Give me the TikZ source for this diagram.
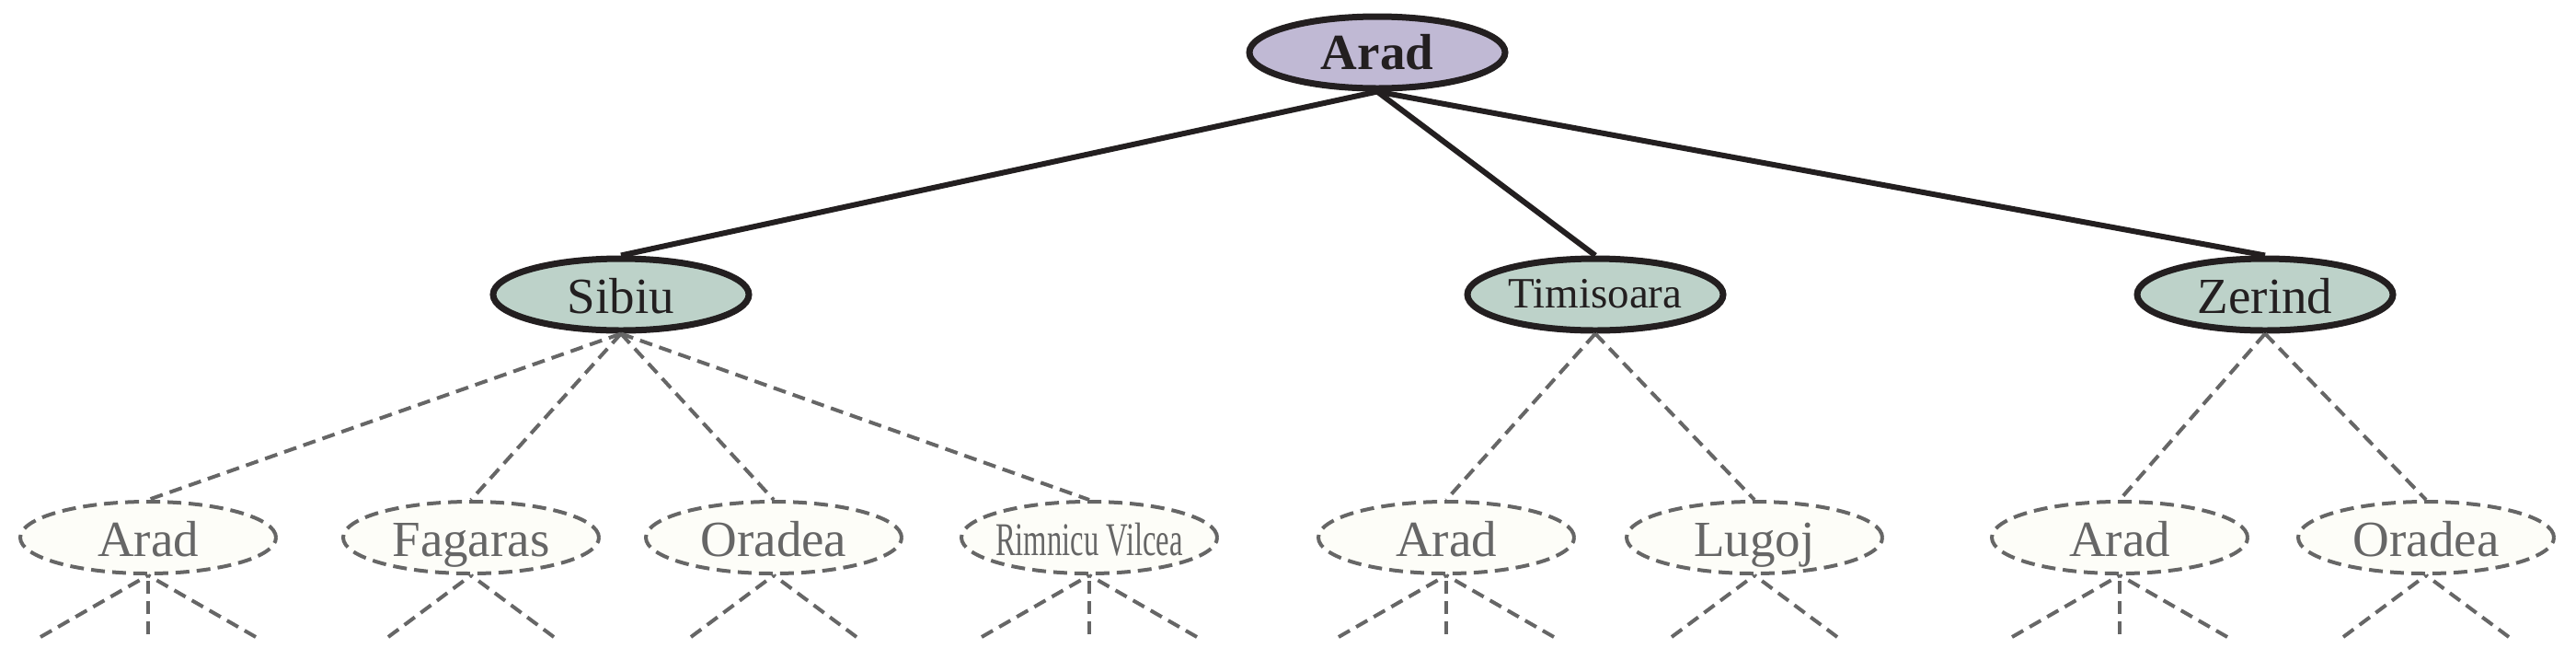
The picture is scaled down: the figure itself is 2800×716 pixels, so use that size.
\documentclass[tikz,border=0pt]{standalone}
\usepackage{fontspec}
\setmainfont{Liberation Serif}
\usetikzlibrary{shapes.geometric}
\definecolor{inkk}{HTML}{231F20}
\definecolor{rootfill}{HTML}{C0B9D4}
\definecolor{midfill}{HTML}{BDD2C9}
\definecolor{leaffill}{HTML}{FDFDF8}
\definecolor{dgray}{HTML}{666666}
\begin{document}
\begin{tikzpicture}[x=1pt,y=-1pt,
  cnode/.style={ellipse, minimum width=278pt, minimum height=78pt, inner sep=0pt,
    text height=40pt, text depth=0pt, font=\fontsize{55}{60}\selectfont},
  rootnode/.style={cnode, draw=inkk, line width=7pt, fill=rootfill, text=inkk,
    font=\fontsize{55}{60}\selectfont\bfseries, text height=36pt},
  midnode/.style={cnode, draw=inkk, line width=7pt, fill=midfill, text=inkk},
  leafnode/.style={cnode, draw=dgray, line width=4pt, dash pattern=on 15pt off 8pt,
    fill=leaffill, text=dgray},
  solidedge/.style={draw=inkk, line width=6pt},
  dashedge/.style={draw=dgray, line width=4pt, dash pattern=on 14pt off 8pt},
]
\useasboundingbox (0,0) rectangle (2800,716);

\node[rootnode] (root) at (1497,57) {Arad};
\node[midnode] (sib) at (675,320) {Sibiu};
\node[midnode, font=\fontsize{47}{52}\selectfont, text height=28pt] (tim) at (1734,320) {Timisoara};
\node[midnode] (zer) at (2462,320) {Zerind};

\node[leafnode] (l1) at (161,584) {Arad};
\node[leafnode] (l2) at (512,584) {Fagaras};
\node[leafnode] (l3) at (841,584) {Oradea};
\node[leafnode, text height=38pt] (l4) at (1184,584) {\makebox[0pt]{\scalebox{0.64}[1]{\fontsize{51}{56}\selectfont Rimnicu Vilcea}}};
\node[leafnode] (l5) at (1572,584) {Arad};
\node[leafnode] (l6) at (1907,584) {Lugoj};
\node[leafnode] (l7) at (2304,584) {Arad};
\node[leafnode] (l8) at (2637,584) {Oradea};

\draw[solidedge] (root.south) -- (sib.north);
\draw[solidedge] (root.south) -- (tim.north);
\draw[solidedge] (root.south) -- (zer.north);

\draw[dashedge] (sib.south) -- (l1.north);
\draw[dashedge] (sib.south) -- (l2.north);
\draw[dashedge] (sib.south) -- (l3.north);
\draw[dashedge] (sib.south) -- (l4.north);
\draw[dashedge] (tim.south) -- (l5.north);
\draw[dashedge] (tim.south) -- (l6.north);
\draw[dashedge] (zer.south) -- (l7.north);
\draw[dashedge] (zer.south) -- (l8.north);

\foreach \n in {l1,l4,l5,l7} {
  \path (\n.south) ++(-117,67) coordinate (\n-a);
  \path (\n.south) ++(0,64) coordinate (\n-b);
  \path (\n.south) ++(117,67) coordinate (\n-c);
  \draw[dashedge] (\n-a) -- (\n.south);
  \draw[dashedge] (\n-b) -- (\n.south);
  \draw[dashedge] (\n-c) -- (\n.south);
}
\foreach \n in {l2,l3,l6,l8} {
  \path (\n.south) ++(-90,67) coordinate (\n-a);
  \path (\n.south) ++(90,67) coordinate (\n-c);
  \draw[dashedge] (\n-a) -- (\n.south);
  \draw[dashedge] (\n-c) -- (\n.south);
}
\end{tikzpicture}
\end{document}
